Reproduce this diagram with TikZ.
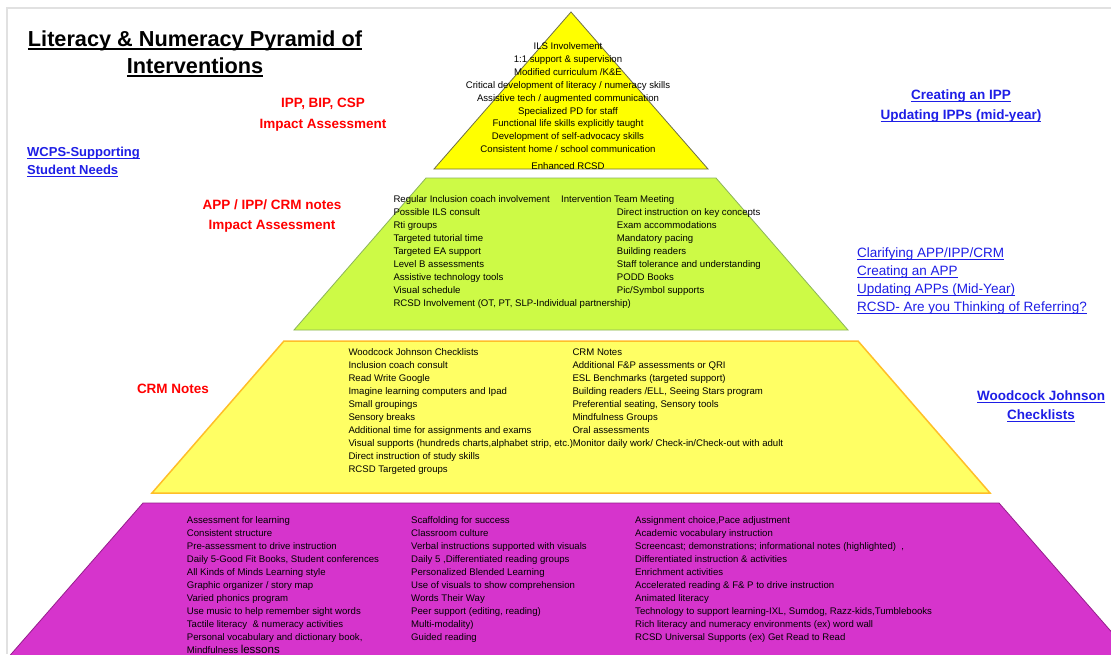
\documentclass[tikz,border=0pt]{standalone}
\usepackage{fontspec}
\setmainfont{Liberation Sans}
\definecolor{topyellow}{RGB}{255,255,0}
\definecolor{topedge}{RGB}{110,110,70}
\definecolor{midgreen}{RGB}{205,250,70}
\definecolor{greenedge}{RGB}{140,180,90}
\definecolor{lowyellow}{RGB}{255,255,100}
\definecolor{orangeedge}{RGB}{255,190,40}
\definecolor{basemag}{RGB}{214,52,204}
\definecolor{magedge}{RGB}{150,30,140}
\definecolor{lblred}{RGB}{255,0,0}
\definecolor{lnkblue}{RGB}{30,30,230}
\definecolor{framegray}{RGB}{225,225,225}
\newsavebox\ulbox
\newcommand{\undl}[1]{\sbox\ulbox{#1}\rlap{\rule[-0.15em]{\wd\ulbox}{0.075em}}\usebox\ulbox}
\begin{document}
\begin{tikzpicture}[x=1pt,y=-1pt,
	tier/.style={line width=0.8pt},
	itemlist/.style={anchor=north west,align=left,inner sep=0pt,font=\fontsize{9.6}{12.95}\selectfont},
	redlbl/.style={text=lblred,align=center,inner sep=0pt,font=\fontsize{13.5}{20.5}\selectfont\bfseries},
	bluelnk/.style={text=lnkblue,inner sep=0pt,font=\fontsize{13.5}{20}\selectfont\bfseries}]
		\useasboundingbox (0,0) rectangle (1111,654);
		\clip (0,0) rectangle (1111,654);
		\fill[white] (0,0) rectangle (1111,654);
		\draw[framegray, line width=1.5pt] (7,654) -- (7,8) -- (1111,8);
		
		%tiers%
		\filldraw[tier, fill=topyellow, draw=topedge] (571,12) -- (708,169) -- (434,169) -- cycle;
		\filldraw[tier, fill=midgreen, draw=greenedge] (426,178) -- (716,178) -- (848,330) -- (294,330) -- cycle;
		\filldraw[tier, fill=lowyellow, draw=orangeedge, line width=1.5pt] (284,341) -- (858,341) -- (990,493) -- (152,493) -- cycle;
		\filldraw[tier, fill=basemag, draw=magedge] (143,503) -- (999,503) -- (1136,660) -- (6,660) -- cycle;
		
		%title%
		\node[anchor=north, align=center, inner sep=0pt, font=\fontsize{21.7}{27}\selectfont\bfseries] (title) at (195,30.5)
			{\undl{Literacy \& Numeracy Pyramid of}\\\undl{Interventions}};
		
		%top tier%
		\node[itemlist, anchor=north, align=center] (toplist) at (568,42.1)
			{ILS Involvement\\1:1 support \& supervision\\Modified curriculum /K\&E\\Critical development of literacy / numeracy skills\\Assistive tech / augmented communication\\Specialized PD for staff\\Functional life skills explicitly taught\\Development of self-advocacy skills\\Consistent home / school communication\\[3.4pt]Enhanced RCSD};
		
		%second tier%
		\node[itemlist] (greenleft) at (393.3,195.7)
			{Regular Inclusion coach involvement\\Possible ILS consult\\Rti groups\\Targeted tutorial time\\Targeted EA support\\Level B assessments\\Assistive technology tools\\Visual schedule\\RCSD Involvement (OT, PT, SLP-Individual partnership)};
		\node[itemlist] (greenmeet) at (561,195.7) {Intervention Team Meeting};
		\node[itemlist] (greenright) at (616.7,208.7)
			{Direct instruction on key concepts\\Exam accommodations\\Mandatory pacing\\Building readers\\Staff tolerance and understanding\\PODD Books\\Pic/Symbol supports};
		
		%third tier%
		\node[itemlist] (crmleft) at (348.3,348.4)
			{Woodcock Johnson Checklists\\Inclusion coach consult\\Read Write Google\\Imagine learning computers and Ipad\\Small groupings\\Sensory breaks\\Additional time for assignments and exams\\Visual supports (hundreds charts,alphabet strip, etc.)Monitor daily work/ Check-in/Check-out with adult\\Direct instruction of study skills\\RCSD Targeted groups};
		\node[itemlist] (crmright) at (572.3,348.4)
			{CRM Notes\\Additional F\&P assessments or QRI\\ESL Benchmarks (targeted support)\\Building readers /ELL, Seeing Stars program\\Preferential seating, Sensory tools\\Mindfulness Groups\\Oral assessments};
		
		%base tier%
		\node[itemlist] (baseleft) at (186.7,516.7)
			{Assessment for learning\\Consistent structure\\Pre-assessment to drive instruction\\Daily 5-Good Fit Books, Student conferences\\All Kinds of Minds Learning style\\Graphic organizer / story map\\Varied phonics program\\Use music to help remember sight words\\Tactile literacy \ \& numeracy activities\\Personal vocabulary and dictionary book,\\Mindfulness {\fontsize{11.5}{12.95}\selectfont lessons}};
		\node[itemlist] (basemid) at (411,516.7)
			{Scaffolding for success\\Classroom culture\\Verbal instructions supported with visuals\\Daily 5 ,Differentiated reading groups\\Personalized Blended Learning\\Use of visuals to show comprehension\\Words Their Way\\Peer support (editing, reading)\\Multi-modality)\\Guided reading};
		\node[itemlist] (baseright) at (635,516.7)
			{Assignment choice,Pace adjustment\\Academic vocabulary instruction\\Screencast; demonstrations; informational notes (highlighted) \ ,\\Differentiated instruction \& activities\\Enrichment activities\\Accelerated reading \& F\& P to drive instruction\\Animated literacy\\Technology to support learning-IXL, Sumdog, Razz-kids,Tumblebooks\\Rich literacy and numeracy environments (ex) word wall\\RCSD Universal Supports (ex) Get Read to Read};
		
		%red labels%
		\node[redlbl, anchor=north] (ippred) at (323,97.9) {IPP, BIP, CSP\\Impact Assessment};
		\node[redlbl, anchor=north] (appred) at (272,199.4) {APP / IPP/ CRM notes\\Impact Assessment};
		\node[redlbl] (crmred) at (173,389) {CRM Notes};
		
		%links%
		\node[bluelnk, anchor=north west, align=left, font=\fontsize{13}{18}\selectfont\bfseries] (wcpslnk) at (27,147.2)
			{\undl{WCPS-Supporting}\\\undl{Student Needs}};
		\node[bluelnk, anchor=north, align=center] (ipplnk) at (961,89.9)
			{\undl{Creating an IPP}\\\undl{Updating IPPs (mid-year)}};
		\node[bluelnk, anchor=north west, align=left, font=\fontsize{13.5}{18}\selectfont] (applnk) at (857,247.6)
			{\undl{Clarifying APP/IPP/CRM}\\\undl{Creating an APP}\\\undl{Updating APPs (Mid-Year)}\\\undl{RCSD- Are you Thinking of Referring?}};
		\node[bluelnk, anchor=north, align=center, font=\fontsize{13.5}{19}\selectfont\bfseries] (wjlnk) at (1041,390.9)
			{\undl{Woodcock Johnson}\\\undl{Checklists}};
\end{tikzpicture}
\end{document}
